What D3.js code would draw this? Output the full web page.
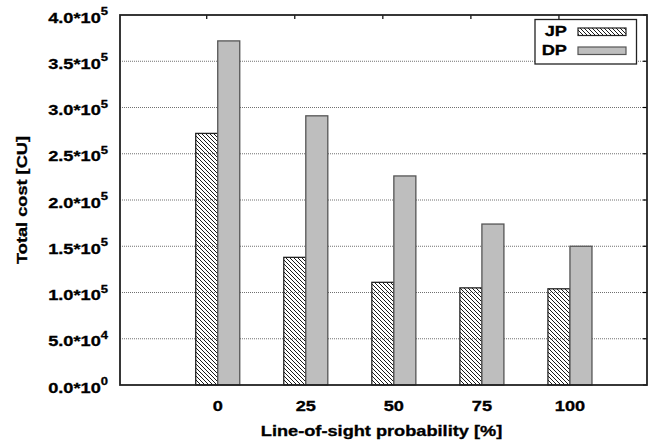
<!DOCTYPE html>
<html>
<head>
<meta charset="utf-8">
<script src="https://cdn.jsdelivr.net/npm/d3@7"></script>
<style>
  body { margin: 0; background: #fff; }
  text { font-family: "Liberation Sans", Arial, sans-serif; font-weight: bold; fill: #000; stroke: #000; stroke-width: 0.3px; }
</style>
</head>
<body>
<svg id="chart" width="658" height="444"></svg>
<script>
var categories = ["0", "25", "50", "75", "100"];
var jpValues = [2.72e5, 1.38e5, 1.11e5, 1.05e5, 1.04e5];
var dpValues = [3.72e5, 2.91e5, 2.26e5, 1.74e5, 1.50e5];
var yTicks = [0, 5e4, 1e5, 1.5e5, 2e5, 2.5e5, 3e5, 3.5e5, 4e5];
var seriesNames = ["JP", "DP"];

var dimensions = {
    width: 658,
    height: 444,
    margin: { left: 120, top: 15, right: 11, bottom: 59 }
};

var svg = d3.select("#chart");
var stretch = 1.3;   // the glyphs in the picture are wide, so text gets a horizontal stretch

var xScale = d3.scaleLinear()
    .domain([-1.11, 4.875])
    .range([dimensions.margin.left, dimensions.width - dimensions.margin.right]);

var yScale = d3.scaleLinear()
    .domain([0, 4e5])
    .range([dimensions.height - dimensions.margin.bottom, dimensions.margin.top]);

var barW = 0.25;
var x0 = dimensions.margin.left, x1 = dimensions.width - dimensions.margin.right;
var y0 = yScale(0), y1 = yScale(4e5);

// hatch pattern for JP
var defs = svg.append("defs");
defs.append("pattern")
    .attr("id", "hatch")
    .attr("patternUnits", "userSpaceOnUse")
    .attr("width", 4)
    .attr("height", 4)
    .append("path")
    .attr("d", "M-1,-1 L5,5 M-1,3 L1,5 M3,-1 L5,1")
    .attr("stroke", "#000")
    .attr("stroke-width", 0.9);

// grid
svg.append("g")
    .selectAll("line")
    .data(yTicks.filter(d => d > 0 && d < 4e5))
    .enter()
    .append("line")
    .attr("x1", x0)
    .attr("x2", x1)
    .attr("y1", d => yScale(d))
    .attr("y2", d => yScale(d))
    .attr("stroke", "#707070")
    .attr("stroke-width", 1)
    .attr("stroke-dasharray", "1,1");

// bars
var groups = svg.append("g")
    .selectAll("g")
    .data(categories)
    .enter()
    .append("g");

groups.append("rect")
    .attr("x", (d, i) => xScale(i - barW))
    .attr("y", (d, i) => yScale(jpValues[i]))
    .attr("width", (d, i) => xScale(i) - xScale(i - barW))
    .attr("height", (d, i) => y0 - yScale(jpValues[i]))
    .attr("fill", "url(#hatch)")
    .attr("stroke", "#222")
    .attr("stroke-width", 1.3);

groups.append("rect")
    .attr("x", (d, i) => xScale(i))
    .attr("y", (d, i) => yScale(dpValues[i]))
    .attr("width", (d, i) => xScale(i + barW) - xScale(i))
    .attr("height", (d, i) => y0 - yScale(dpValues[i]))
    .attr("fill", "#bebebe")
    .attr("stroke", "#555")
    .attr("stroke-width", 1.3);

// mirrored ticks: right side and top
svg.append("g")
    .selectAll("line")
    .data(yTicks)
    .enter()
    .append("line")
    .attr("x1", x1 - 4)
    .attr("x2", x1)
    .attr("y1", d => yScale(d))
    .attr("y2", d => yScale(d))
    .attr("stroke", "#000")
    .attr("stroke-width", 1.2);

svg.append("g")
    .selectAll("line")
    .data(categories)
    .enter()
    .append("line")
    .attr("x1", (d, i) => xScale(i - barW / 2))
    .attr("x2", (d, i) => xScale(i - barW / 2))
    .attr("y1", y1)
    .attr("y2", y1 + 4)
    .attr("stroke", "#000")
    .attr("stroke-width", 1.2);

// frame
svg.append("rect")
    .attr("x", x0)
    .attr("y", y1)
    .attr("width", x1 - x0)
    .attr("height", y0 - y1)
    .attr("fill", "none")
    .attr("stroke", "#222")
    .attr("stroke-width", 1.8);

// y tick labels like 4.0*10^5
function sciParts(v) {
    if (v === 0) return ["0.0", "0"];
    var e = Math.floor(Math.log10(v));
    return [(v / Math.pow(10, e)).toFixed(1), String(e)];
}

var yLabels = svg.append("g")
    .selectAll("text")
    .data(yTicks)
    .enter()
    .append("text")
    .attr("transform", d => "translate(108," + (yScale(d) + 7.5) + ") scale(" + stretch + ",1)")
    .attr("text-anchor", "end")
    .style("font-size", "14px");

yLabels.append("tspan").text(d => sciParts(d)[0] + "*10");
yLabels.append("tspan")
    .attr("dy", -7.5)
    .style("font-size", "10px")
    .text(d => sciParts(d)[1]);

// x tick labels
svg.append("g")
    .selectAll("text")
    .data(categories)
    .enter()
    .append("text")
    .attr("transform", (d, i) => "translate(" + xScale(i) + "," + 411 + ") scale(" + stretch + ",1)")
    .attr("text-anchor", "middle")
    .style("font-size", "14px")
    .text(d => d);

// axis titles
svg.append("text")
    .attr("transform", "translate(" + ((x0 + x1) / 2 - 2) + ",436) scale(" + stretch + ",1)")
    .attr("text-anchor", "middle")
    .style("font-size", "14px")
    .text("Line-of-sight probability [%]");

svg.append("text")
    .attr("transform", "translate(26.5," + ((y0 + y1) / 2) + ") rotate(-90) scale(" + stretch + ",1)")
    .attr("text-anchor", "middle")
    .style("font-size", "14px")
    .text("Total cost [CU]");

// legend
var legend = svg.append("g");
legend.append("rect")
    .attr("x", 535)
    .attr("y", 19.5)
    .attr("width", 101.5)
    .attr("height", 44.5)
    .attr("fill", "#fff")
    .attr("stroke", "#222")
    .attr("stroke-width", 1.3);

var legendFill = ["url(#hatch)", "#bebebe"];
var legendStroke = ["#222", "#555"];
seriesNames.forEach(function(name, i) {
    legend.append("text")
        .attr("transform", "translate(567," + (35.5 + i * 19.5) + ") scale(" + stretch + ",1)")
        .attr("text-anchor", "end")
        .style("font-size", "14px")
        .text(name);
    legend.append("rect")
        .attr("x", 578)
        .attr("y", 28 + i * 19)
        .attr("width", 48)
        .attr("height", 7.5)
        .attr("fill", legendFill[i])
        .attr("stroke", legendStroke[i])
        .attr("stroke-width", 1.2);
});
</script>
</body>
</html>
